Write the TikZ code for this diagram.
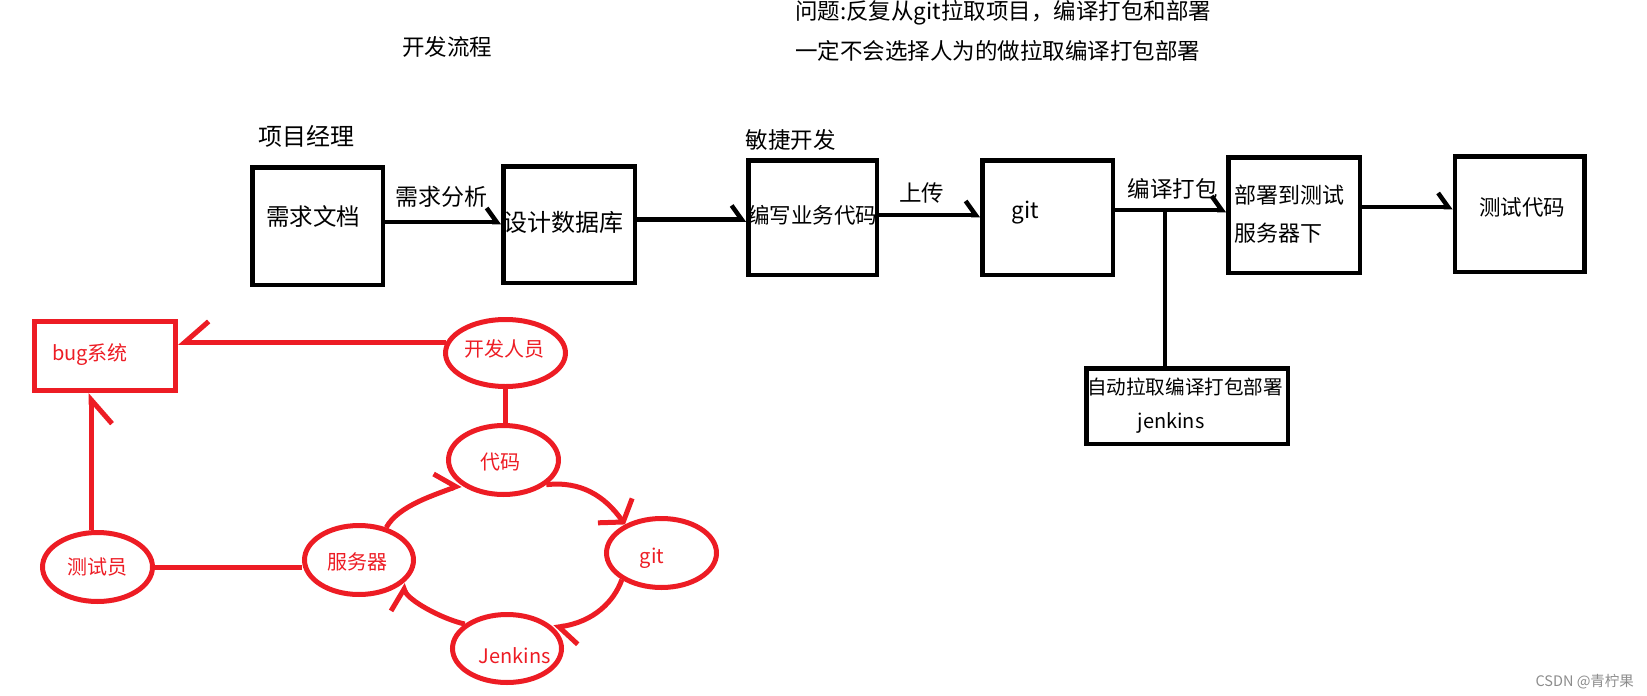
\documentclass[tikz,border=0pt]{standalone}
\usepackage{fontspec}
\setmainfont{Noto Sans CJK SC}
\usetikzlibrary{arrows.meta,positioning,shapes.geometric}
\definecolor{pred}{RGB}{237,28,36}
\tikzset{
  box/.style={draw,line width=4.5pt,inner sep=0pt},
  btxt/.style={font=\fontsize{22.5}{27}\selectfont,inner sep=0pt},
  rtxt/.style={font=\fontsize{20}{24}\selectfont,text=pred,inner sep=0pt},
  bub/.style={draw=pred,line width=5pt,ellipse,inner sep=0pt,minimum width=110pt,minimum height=69pt},
  barb/.style={line width=4.5pt,-{Straight Barb[harpoon,length=10pt,width=28pt]}},
  rline/.style={draw=pred,line width=5pt},
  rbarb/.style={rline,-{Straight Barb[harpoon,length=16pt,width=40pt]}},
  rbarbs/.style={rline,-{Straight Barb[harpoon,swap,length=24pt,width=42pt]}},
  rfull/.style={rline,-{Straight Barb[length=14pt,width=42pt]}}
}
\begin{document}
\begin{tikzpicture}[x=1pt,y=-1pt]
  \useasboundingbox (0,0) rectangle (1647,696);
  % notes on top
  \node[btxt] (flow) at (447,47) {开发流程};
  \node[btxt,anchor=west] (q1) at (795,13) {问题:反复从git拉取项目，编译打包和部署};
  \node[btxt,anchor=west] (q2) at (795,51) {一定不会选择人为的做拉取编译打包部署};
  % process row
  \node[btxt,font=\fontsize{24}{28}\selectfont] (pm) at (306,136) {项目经理};
  \node[box,minimum width=130.5pt,minimum height=117.5pt,
        label={[btxt,font=\fontsize{23.5}{28}\selectfont,xshift=-4.5pt,yshift=9pt]center:需求文档}] (doc) at (317.5,226) {};
  \node[box,minimum width=131.5pt,minimum height=116.5pt,
        label={[btxt,font=\fontsize{24}{28}\selectfont,xshift=-5.5pt,yshift=2.5pt]center:设计数据库}] (db) at (569,224.5) {};
  \node[btxt] (agile) at (790.5,140) {敏捷开发};
  \node[box,minimum width=128.5pt,minimum height=114.5pt,
        label={[btxt,font=\fontsize{21.5}{26}\selectfont,yshift=2.5pt]center:编写业务代码}] (code) at (812.5,217.5) {};
  \node[box,minimum width=130.5pt,minimum height=114.5pt,
        label={[btxt,xshift=-22.5pt,yshift=4.5pt]center:git}] (git) at (1047.5,217.5) {};
  \node[box,minimum width=131.5pt,minimum height=115.5pt,
        label={[btxt,font=\fontsize{22}{38}\selectfont,align=left,xshift=-5pt,yshift=1pt]center:部署到测试\\服务器下}] (dep) at (1294,215) {};
  \node[box,minimum width=129.5pt,minimum height=115.5pt,
        label={[btxt,font=\fontsize{21.5}{26}\selectfont,xshift=2.5pt,yshift=7pt]center:测试代码}] (test) at (1519.5,214) {};
  \node[box,minimum width=201.5pt,minimum height=75.5pt,
        label={[btxt,font=\fontsize{19.6}{24}\selectfont,xshift=-2pt,yshift=19pt]center:自动拉取编译打包部署},
        label={[btxt,font=\fontsize{20}{24}\selectfont,xshift=-16pt,yshift=-17pt]center:jenkins}] (jk) at (1187,406) {};
  \node[btxt,font=\fontsize{23}{27}\selectfont] (need) at (441.5,197) {需求分析};
  \node[btxt] (push) at (921.5,193) {上传};
  \node[btxt] (build) at (1172.5,189) {编译打包};
  \draw[barb] ([yshift=4pt]doc.east) -- ([yshift=4pt]doc.east -| db.west);
  \draw[barb] ([yshift=5pt]db.east) -- ([yshift=5pt]db.east -| code.west);
  \draw[barb] ([yshift=2.5pt]code.east) -- ([yshift=2.5pt]code.east -| git.west);
  \draw[barb] ([yshift=7.5pt]git.east) -- ([yshift=7.5pt]git.east -| dep.west);
  \draw[barb] ([yshift=8pt]dep.east) -- ([yshift=8pt]dep.east -| test.west);
  \coordinate (split) at (1165,210);
  \draw[line width=4.5pt] (split) -- (split |- jk.north);
  % team loop
  \node[draw=pred,line width=5pt,minimum width=141pt,minimum height=69pt,
        label={[rtxt,xshift=-15pt,yshift=1pt]center:bug系统}] (bug) at (105,356) {};
  \node[bub,minimum width=120pt,minimum height=67pt,
        label={[rtxt,xshift=-1.5pt,yshift=4pt]center:开发人员}] (dev) at (505.5,353) {};
  \node[bub,label={[rtxt,xshift=-3.5pt,yshift=-2pt]center:代码}] (cd) at (503.5,460) {};
  \node[bub,label={[rtxt,xshift=-9.5pt,yshift=-5pt]center:git}] (gt) at (661.5,553) {};
  \node[bub,minimum width=109pt,minimum height=68pt,
        label={[rtxt,xshift=8pt,yshift=-7.5pt]center:Jenkins}] (jen) at (507,648.5) {};
  \node[bub,minimum width=109pt,
        label={[rtxt,xshift=-2pt,yshift=-2pt]center:服务器}] (srv) at (359,560) {};
  \node[bub,label={[rtxt]center:测试员}] (tst) at (97.5,567) {};
  \draw[rbarbs] (dev.170) -- (dev.170 -| bug.east);
  \draw[rbarbs] (tst.100) -- (tst.100 |- bug.south);
  \draw[rline] (dev.south) -- (dev.south |- cd.north);
  \draw[rline] (tst.east) -- (tst.east -| srv.west);
  \draw[rbarb] (srv.50) .. controls +(12,-22) and +(-25,10) .. (cd.210);
  \draw[rfull] (cd.330) .. controls +(35,-4) and +(-20,-28) .. (gt.142);
  \draw[rbarb] (gt.214) .. controls +(-8,22) and +(40,-6) .. (jen.24);
  \draw[rbarb] (jen.150) .. controls +(-25,-6) and +(6,16) .. (srv.331);
  \node[font=\fontsize{14.5}{17}\selectfont,text=black!45,anchor=west] (mark) at (1532,682) {CSDN @青柠果};
\end{tikzpicture}
\end{document}
